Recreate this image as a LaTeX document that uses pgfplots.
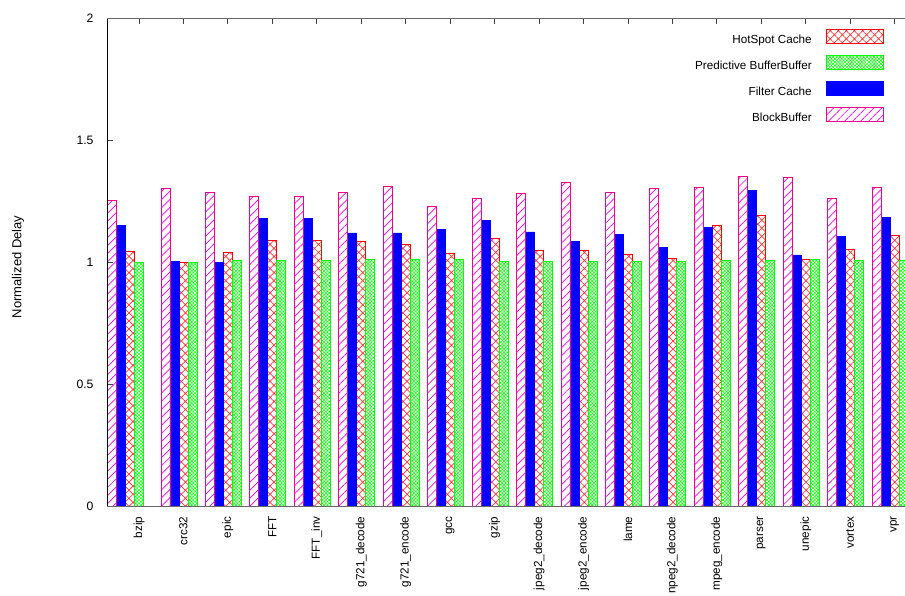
\documentclass[border=0pt]{standalone}
\usepackage{fontspec}
\setmainfont{Liberation Sans}
\usepackage{pgfplots}
\usepackage{pgfplotstable}
\pgfplotsset{compat=1.18}
\usetikzlibrary{patterns.meta}

\pgfplotstableread{
x bb fc hs pb
-0.2025 1.254 1.149 1.045 1.000
1 1.300 1.001 1.000 1.000
2 1.286 1.000 1.040 1.005
3 1.269 1.179 1.089 1.005
4 1.269 1.179 1.089 1.005
5 1.286 1.119 1.086 1.009
6 1.309 1.119 1.072 1.012
7 1.228 1.135 1.036 1.009
8 1.262 1.172 1.097 1.001
9 1.281 1.123 1.048 1.001
10 1.328 1.086 1.049 1.001
11 1.286 1.112 1.033 1.003
12 1.302 1.060 1.016 1.001
13 1.305 1.142 1.150 1.005
14 1.351 1.294 1.189 1.005
15 1.347 1.029 1.009 1.009
16 1.260 1.105 1.053 1.005
17 1.305 1.184 1.109 1.005
}\data

\newcommand\lfont{\fontsize{11.7}{13}\selectfont}

\begin{document}
\begin{tikzpicture}
\useasboundingbox (-107pt,-89pt) rectangle (798pt,506pt);
\begin{axis}[
  scale only axis, width=798pt, height=488pt,
  at={(0,0)}, anchor=south west,
  xmin=-0.7199, xmax=17.233, ymin=0, ymax=2,
  ybar, bar width=9pt,
  clip mode=individual,
  axis line style={draw=none},
  xtick={0,...,17},
  xticklabels={bzip,crc32,epic,FFT,FFT\_inv,g721\_decode,g721\_encode,gcc,gzip,jpeg2\_decode,jpeg2\_encode,lame,npeg2\_decode,mpeg\_encode,parser,unepic,vortex,vpr},
  ytick={0,0.5,1,1.5,2},
  xtick pos=upper, xticklabel pos=lower,
  ytick pos=left,
  tick align=inside, major tick length=6pt,
  every tick/.style={black!75, line width=0.8pt},
  /pgf/number format/assume math mode=true,
  xticklabel style={rotate=90, anchor=east, font=\lfont},
  xticklabel shift=7pt,
  yticklabel style={font=\fontsize{12.2}{14}\selectfont},
  yticklabel shift=10pt,
  ylabel={Normalized Delay},
  ylabel style={at={(axis description cs:-0.1115,0.49)}, anchor=center, font=\fontsize{13}{15}\selectfont},
  legend image code/.code={\draw[#1] (0pt,-3.3pt) rectangle (57pt,10.7pt);},
  legend plot pos=right,
  legend cell align=right,
  legend style={draw=none, fill=none, at={(axis description cs:0.9731,0.9775)}, anchor=north east,
    inner sep=0pt, outer sep=0pt, row sep=10pt, column sep=14pt, font=\lfont,
    nodes={inner sep=0pt}},
]
\addplot[draw=red, line width=0.8pt, pattern={Hatch[angle=45,distance=5.7pt,line width=0.7pt]}, pattern color=red!80, bar shift=0pt] table[x=x,y=hs]{\data};
\addlegendentry{HotSpot Cache}
\addplot[draw=green, line width=0.8pt, pattern={Hatch[angle=45,distance=2.4pt,line width=0.5pt]}, pattern color=green, bar shift=9pt] table[x=x,y=pb]{\data};
\addlegendentry{Predictive BufferBuffer}
\addplot[draw=blue, fill=blue, line width=0.8pt, bar shift=-9pt] table[x=x,y=fc]{\data};
\addlegendentry{Filter Cache}
\addplot[draw=magenta, line width=0.8pt, pattern={Lines[angle=45,distance=5.7pt,line width=0.7pt]}, pattern color=magenta, bar shift=-18pt] table[x=x,y=bb]{\data};
\addlegendentry{BlockBuffer}
\draw[black, line width=0.9pt] (rel axis cs:0,0) -- (rel axis cs:0,1);
\draw[black!60, line width=0.9pt] (rel axis cs:0,1) -- (rel axis cs:1.02,1);
\draw[black!60, line width=0.9pt] (rel axis cs:0,0) -- (rel axis cs:1.02,0);
\end{axis}
\end{tikzpicture}
\end{document}
